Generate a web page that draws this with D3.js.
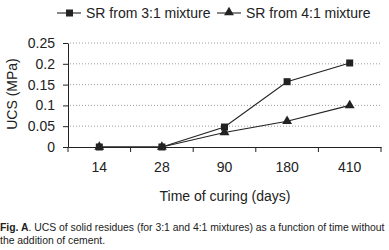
<!DOCTYPE html>
<html>
<head>
<meta charset="utf-8">
<script src="https://cdn.jsdelivr.net/npm/d3@7"></script>
<style>
  body { margin: 0; background: #fff; }
  svg { display: block; font-family: "Liberation Sans", Arial, sans-serif; }
</style>
</head>
<body>
<div id="chart"></div>
<script>
// Data
const days = ["14", "28", "90", "180", "410"];
const sr31 = [0, 0, 0.048, 0.157, 0.202];
const sr41 = [0, 0, 0.035, 0.062, 0.1];
const yTicks = [0, 0.05, 0.1, 0.15, 0.2, 0.25];
const seriesNames = ["SR from 3:1 mixture", "SR from 4:1 mixture"];

const W = 389, H = 250;
const ink = "#222";
const fs = 14;

const svg = d3.select("#chart").append("svg")
  .attr("width", W)
  .attr("height", H);

const x = d3.scaleBand().domain(days).range([68, 381]);
const y = d3.scaleLinear().domain([0, 0.25]).range([147, 43]);

// dotted grid lines
svg.append("g")
  .selectAll("line")
  .data(yTicks.slice(1))
  .enter().append("line")
  .attr("x1", 70).attr("x2", 381)
  .attr("y1", d => y(d)).attr("y2", d => y(d))
  .attr("stroke", "#888")
  .attr("stroke-width", 0.8)
  .attr("stroke-dasharray", "1,2");

// y axis
const yAxis = svg.append("g")
  .attr("transform", "translate(68,0)")
  .call(d3.axisLeft(y).tickValues(yTicks).tickFormat(d => d === 0 ? "0" : String(+d.toFixed(2))).tickSize(5).tickSizeOuter(0));
yAxis.select(".domain").attr("stroke", ink);
yAxis.selectAll(".tick line").attr("stroke", ink);
yAxis.selectAll(".tick text").attr("fill", ink).attr("font-size", fs).attr("x", -13)
  .style("font-family", "Liberation Sans, Arial, sans-serif");

// x axis
const xAxis = svg.append("g")
  .attr("transform", "translate(0,147)")
  .call(d3.axisBottom(x).tickSize(0).tickSizeOuter(0).tickPadding(15));
xAxis.select(".domain").attr("stroke", ink);
xAxis.selectAll(".tick text").attr("fill", ink).attr("font-size", fs)
  .style("font-family", "Liberation Sans, Arial, sans-serif");
// tick marks at category boundaries
const edges = days.map(d => x(d)).concat([x.range()[1]]);
svg.append("g")
  .selectAll("line")
  .data(edges)
  .enter().append("line")
  .attr("x1", d => d).attr("x2", d => d)
  .attr("y1", 147).attr("y2", 152)
  .attr("stroke", ink);

// lines
const cx = d => x(d) + x.bandwidth() / 2;
const line = d3.line().x((d, i) => cx(days[i])).y(d => y(d));

svg.append("path").datum(sr41).attr("d", line)
  .attr("fill", "none").attr("stroke", ink).attr("stroke-width", 1.1);
svg.append("path").datum(sr31).attr("d", line)
  .attr("fill", "none").attr("stroke", ink).attr("stroke-width", 1.1);

const tri = d3.symbol().type(d3.symbolTriangle).size(42);
svg.append("g").selectAll("path")
  .data(sr41)
  .enter().append("path")
  .attr("d", tri)
  .attr("transform", (d, i) => `translate(${cx(days[i])},${y(d)})`)
  .attr("fill", ink);

svg.append("g").selectAll("rect")
  .data(sr31)
  .enter().append("rect")
  .attr("x", (d, i) => cx(days[i]) - 3.5)
  .attr("y", d => y(d) - 3.5)
  .attr("width", 7).attr("height", 7)
  .attr("fill", ink);

// axis titles
svg.append("text")
  .attr("transform", "translate(16.5,94) rotate(-90)")
  .attr("text-anchor", "middle")
  .attr("font-size", fs)
  .attr("fill", ink)
  .text("UCS (MPa)");

svg.append("text")
  .attr("x", 225).attr("y", 201)
  .attr("text-anchor", "middle")
  .attr("font-size", fs)
  .attr("fill", ink)
  .text("Time of curing (days)");

// legend
const legendX = [57, 217];
const leg = svg.append("g");
seriesNames.forEach((name, i) => {
  const lx = legendX[i];
  leg.append("line")
    .attr("x1", lx).attr("x2", lx + 24)
    .attr("y1", 13).attr("y2", 13)
    .attr("stroke", ink).attr("stroke-width", 1.1);
  if (i === 0) {
    leg.append("rect").attr("x", lx + 9).attr("y", 9.5).attr("width", 7).attr("height", 7).attr("fill", ink);
  } else {
    leg.append("path").attr("d", tri).attr("transform", `translate(${lx + 12},12.5)`).attr("fill", ink);
  }
  leg.append("text")
    .attr("x", lx + 29).attr("y", 18)
    .attr("font-size", fs)
    .attr("fill", ink)
    .text(name);
});

// caption, squeezed horizontally to the figure width
const capFs = 11;
const capG = svg.append("g");
const cap = capG.append("text")
  .attr("x", 0).attr("y", 231)
  .attr("font-size", capFs)
  .attr("fill", ink);
cap.append("tspan").attr("font-weight", "bold").text("Fig. A");
cap.append("tspan").text(". UCS of solid residues (for 3:1 and 4:1 mixtures) as a function of time without");
capG.append("text")
  .attr("x", 0).attr("y", 244)
  .attr("font-size", capFs)
  .attr("fill", ink)
  .text("the addition of cement.");
const sx = Math.min(1, 385 / cap.node().getComputedTextLength());
capG.attr("transform", `scale(${sx},1)`);
</script>
</body>
</html>
